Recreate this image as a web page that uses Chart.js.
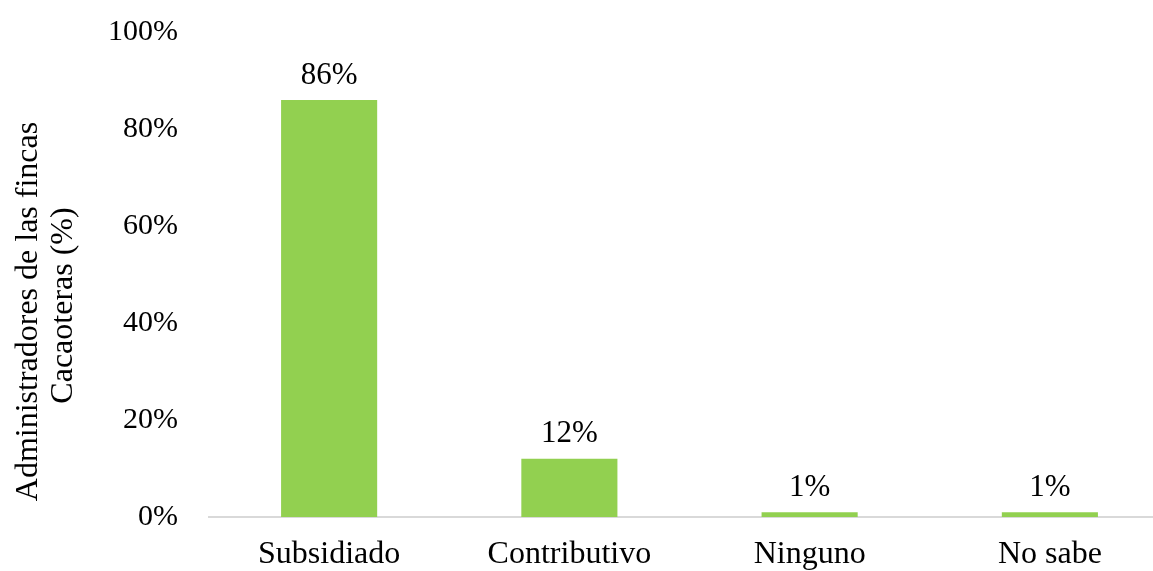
<!DOCTYPE html>
<html>
<head>
<meta charset="utf-8">
<script src="https://cdn.jsdelivr.net/npm/chart.js@4.4.1/dist/chart.umd.min.js"></script>
<style>
  html, body { margin: 0; padding: 0; background: #fff; overflow: hidden; }
  #wrap { width: 1170px; height: 571px; }
</style>
</head>
<body>
<div id="wrap"><canvas id="regimen-chart"></canvas></div>
<script>
"strict";

// categories and values
const categories = ["Subsidiado", "Contributivo", "Ninguno", "No sabe"];
const percentValues = [86, 12, 1, 1];
const yTicks = [0, 20, 40, 60, 80, 100];
const yTitle = ["Administradores de las fincas", "Cacaoteras (%)"];

const serif = "'Liberation Serif', 'Times New Roman', serif";

// simple value labels on top of the bars
const barLabels = {
  id: "barLabels",
  afterDatasetsDraw(chart) {
    const ctx = chart.ctx;
    const meta = chart.getDatasetMeta(0);
    ctx.save();
    ctx.font = "31px " + serif;
    ctx.fillStyle = "#000";
    ctx.textAlign = "center";
    ctx.textBaseline = "bottom";
    meta.data.forEach((bar, i) => {
      ctx.fillText(percentValues[i] + "%", bar.x, bar.y - 9);
    });
    ctx.restore();
  },
};

// rotated y axis title, each line centred on its own like the original
const yAxisTitle = {
  id: "yAxisTitle",
  afterDraw(chart) {
    const ctx = chart.ctx;
    const mid = (chart.chartArea.top + chart.chartArea.bottom) / 2;
    ctx.save();
    ctx.font = "32px " + serif;
    ctx.fillStyle = "#000";
    ctx.textAlign = "center";
    ctx.textBaseline = "middle";
    [[29, mid + 37], [64, mid + 31]].forEach(([x, y], i) => {
      ctx.save();
      ctx.translate(x, y);
      ctx.rotate(-Math.PI / 2);
      ctx.fillText(yTitle[i], 0, 0);
      ctx.restore();
    });
    ctx.restore();
  },
};

function renderChart(canvasId) {
  const ctx = document.getElementById(canvasId).getContext("2d");
  return new Chart(ctx, {
    type: "bar",
    data: {
      labels: categories,
      datasets: [
        {
          data: percentValues,
          backgroundColor: "#92D050",
          borderWidth: 0,
          categoryPercentage: 1,
          barPercentage: 0.4,
        },
      ],
    },
    options: {
      responsive: true,
      maintainAspectRatio: false,
      animation: false,
      layout: { padding: { top: 32, left: 0, right: 0, bottom: 0 } },
      plugins: {
        legend: { display: false },
        tooltip: { enabled: false },
      },
      scales: {
        x: {
          grid: { display: false },
          border: { display: true, color: "#d9d9d9", width: 2 },
          ticks: {
            color: "#000",
            font: { family: serif, size: 32 },
            padding: 10,
          },
          afterFit(scale) { scale.height = 54; },
        },
        y: {
          min: 0,
          max: 100,
          afterBuildTicks(scale) {
            scale.ticks = yTicks.map((v) => ({ value: v }));
          },
          grid: { display: false },
          border: { display: false },
          ticks: {
            color: "#000",
            font: { family: serif, size: 30 },
            padding: 23,
            callback: (v) => v + "%",
          },
          afterFit(scale) {
            scale.width = 209;
            scale.paddingTop = 0;
            scale.paddingBottom = 0;
          },
        },
      },
    },
    plugins: [barLabels, yAxisTitle],
  });
}

const regimenChart = renderChart("regimen-chart");
</script>
</body>
</html>
